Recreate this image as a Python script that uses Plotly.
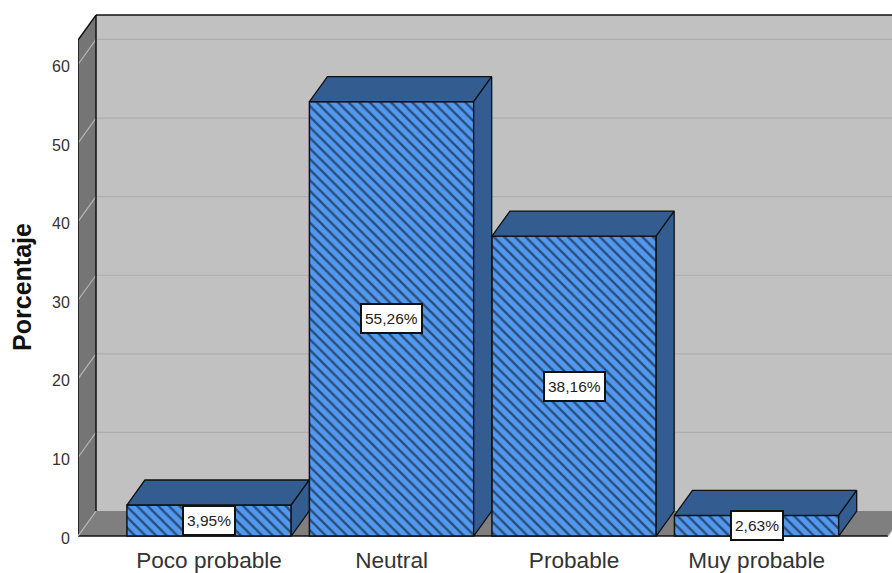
import plotly.graph_objects as go

categorias = ["Poco probable", "Neutral", "Probable", "Muy probable"]
porcentajes = [3.95, 55.26, 38.16, 2.63]
etiquetas = ["3,95%", "55,26%", "38,16%", "2,63%"]
marcas_y = [0, 10, 20, 30, 40, 50, 60]

# Scale: one category is 182.5 px wide, ten percentage points are 78.6 px tall
X_MIN, X_MAX = -0.718, 3.742
Y_MIN, Y_MAX = -0.5, 66.67
X_FINAL = 3.72          # right end of the front floor edge
Y_TECHO = 63.1          # height of the box, measured on the front plane
DX, DY = 0.0986, 3.18   # depth offset of the 3D extrusion
ANCHO = 0.9
AJUSTE_MARCA = 0.25     # y tick labels sit slightly below their gridline

GRIS_PARED = "#c1c1c1"
GRIS_LADO = "#757575"
GRIS_SUELO = "#7f7f7f"
GRID = "#aeaeae"
GRID_LADO = "#b4b4b4"
AZUL = "#5298ee"
AZUL_3D = "#335d91"
NEGRO = "#111111"


def poligono(puntos, relleno, borde=None, ancho=1.3):
    d = "M " + " L ".join(f"{x},{y}" for x, y in puntos) + " Z"
    return dict(type="path", path=d, xref="x", yref="y", layer="below",
                fillcolor=relleno, line=dict(color=borde or relleno, width=ancho if borde else 0))


def linea(x0, y0, x1, y1, color, ancho=1.2):
    return dict(type="line", xref="x", yref="y", layer="below", x0=x0, y0=y0, x1=x1, y1=y1,
                line=dict(color=color, width=ancho))


formas = [
    # back wall, floor and left wall of the box
    poligono([(X_MIN + DX, DY), (X_FINAL + DX, DY), (X_FINAL + DX, Y_TECHO + DY), (X_MIN + DX, Y_TECHO + DY)], GRIS_PARED),
    poligono([(X_MIN, 0), (X_MIN + DX, DY), (X_FINAL + DX, DY), (X_FINAL, 0)], GRIS_SUELO),
    poligono([(X_MIN, 0), (X_MIN + DX, DY), (X_MIN + DX, Y_TECHO + DY), (X_MIN, Y_TECHO)], GRIS_LADO),
]
for v in marcas_y[1:]:
    formas.append(linea(X_MIN + DX, v + DY, X_FINAL + DX, v + DY, GRID))
    formas.append(linea(X_MIN, v, X_MIN + DX, v + DY, GRID_LADO))
formas += [
    linea(X_MIN, 0, X_MIN, Y_TECHO, NEGRO, 1.5),
    linea(X_MIN + DX, DY, X_MIN + DX, Y_TECHO + DY, NEGRO, 1.5),
    linea(X_MIN, Y_TECHO, X_MIN + DX, Y_TECHO + DY, NEGRO, 1.5),
    linea(X_MIN + DX, Y_TECHO + DY, X_FINAL + DX, Y_TECHO + DY, NEGRO, 1.5),
    linea(X_MIN, 0, X_FINAL, 0, NEGRO, 1.5),
    linea(X_MIN, 0, X_MIN + DX, DY, GRID_LADO),
    linea(X_FINAL, 0, X_FINAL + DX, DY, GRID_LADO),
]

fig = go.Figure()

# top and side faces of each bar
for i, v in enumerate(porcentajes):
    xi, xd = i - ANCHO / 2, i + ANCHO / 2
    caras = [
        [(xi, v), (xi + DX, v + DY), (xd + DX, v + DY), (xd, v), (xi, v)],
        [(xd, 0), (xd + DX, DY), (xd + DX, v + DY), (xd, v), (xd, 0)],
    ]
    for cara in caras:
        fig.add_trace(go.Scatter(
            x=[p[0] for p in cara], y=[p[1] for p in cara], mode="lines", fill="toself",
            fillcolor=AZUL_3D, line=dict(color=NEGRO, width=1.3), hoverinfo="skip", showlegend=False,
        ))

# hatched front faces
fig.add_trace(go.Bar(
    x=list(range(len(categorias))), y=porcentajes, width=ANCHO, showlegend=False,
    marker=dict(
        color=AZUL,
        line=dict(color=NEGRO, width=1.5),
        pattern=dict(shape="\\", size=7.5, solidity=0.3, fgcolor="#000000", bgcolor=AZUL),
    ),
))

anotaciones = [
    dict(x=i, y=v / 2, xref="x", yref="y", text=e, showarrow=False, height=21,
         font=dict(family="Liberation Sans", size=15.5, color="#222222"),
         bgcolor="white", bordercolor=NEGRO, borderwidth=2, borderpad=3)
    for i, (v, e) in enumerate(zip(porcentajes, etiquetas))
]
anotaciones.append(dict(
    x=-56 / 814, y=31.7, xref="paper", yref="y", xanchor="center", yanchor="middle",
    text="<b>Porcentaje</b>", textangle=-90, showarrow=False,
    font=dict(family="Liberation Sans", size=25, color="#111111"),
))

fig.update_layout(
    width=892, height=573, autosize=False,
    margin=dict(l=78, r=0, t=12, b=33, autoexpand=False),
    paper_bgcolor="white", plot_bgcolor="white",
    shapes=formas, annotations=anotaciones, barmode="overlay",
    xaxis=dict(range=[X_MIN, X_MAX], tickmode="array", tickvals=list(range(len(categorias))), ticktext=categorias,
               showgrid=False, zeroline=False, showline=False, ticks="", ticklabelstandoff=4,
               tickfont=dict(family="Liberation Sans", size=22.6, color="#333333")),
    yaxis=dict(range=[Y_MIN, Y_MAX], tickmode="array",
               tickvals=[v - AJUSTE_MARCA for v in marcas_y], ticktext=[str(v) for v in marcas_y],
               showgrid=False, zeroline=False, showline=False,
               ticks="outside", ticklen=4, tickcolor="rgba(0,0,0,0)",
               tickfont=dict(family="Liberation Sans", size=16, color="#333333")),
)

fig.write_html("out.html")
